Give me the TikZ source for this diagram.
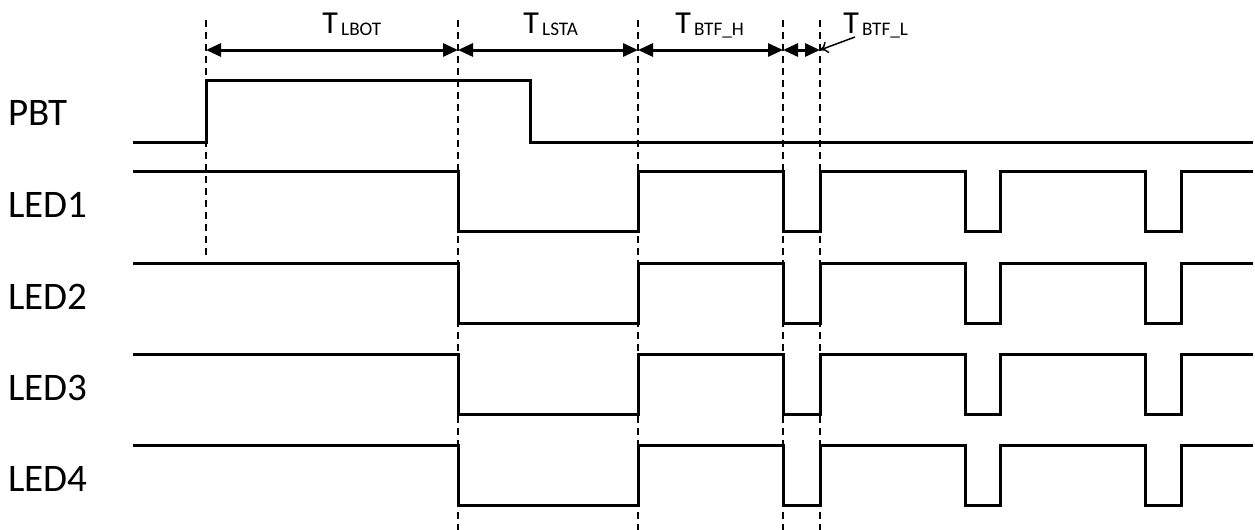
\documentclass[tikz,border=0pt]{standalone}
\usepackage{fontspec}
\setmainfont{Carlito}
\usetikzlibrary{arrows.meta}
\newcommand{\tname}[1]{T\raisebox{-1pt}{\fontsize{9.6}{10}\selectfont\,#1}}

\begin{document}
\begin{tikzpicture}[x=0.5pt,y=-0.5pt,
  sig/.style={line width=1.5pt},
  guide/.style={line width=0.8pt,dash pattern=on 3.5pt off 2.5pt},
  span/.style={line width=1.5pt,{Triangle[length=7.5pt,width=6.5pt]}-{Triangle[length=7.5pt,width=6.5pt]}},
  lab/.style={anchor=base west,inner sep=0pt,font=\fontsize{19.5}{20}\selectfont},
  tlab/.style={anchor=base west,inner sep=0pt,font=\fontsize{16}{16}\selectfont}]
\useasboundingbox (0,0) rectangle (1255,530);

\coordinate (a) at (206,50);
\coordinate (b) at (458,50);
\coordinate (c) at (638,50);
\coordinate (d) at (783,50);
\coordinate (e) at (820,50);
\coordinate (l) at (855,37);

\draw[guide] (206,20) -- (206,258);
\foreach \x in {458,638,783,820}
  \draw[guide] (\x,20) -- (\x,530);

\draw[span] (a) -- (b);
\draw[span] (b) -- (c);
\draw[span] (c) -- (d);
\draw[span] (d) -- (e);
\draw[line width=0.75pt,-{To[length=4pt,width=6pt]}] (l) -- (e);

\node[tlab](tlbot) at (322,33){\tname{LBOT}};
\node[tlab](tlsta) at (523,33){\tname{LSTA}};
\node[tlab](tbtfh) at (675,33){\tname{BTF\_H}};
\node[tlab](tbtfl) at (843,33){\tname{BTF\_L}};

\node[lab](pbt) at (8,126){PBT};
\draw[sig] (133,142) -- (206,142) -- (206,80) -- (530,80) -- (530,142) -- (1253,142);

\foreach \i/\y in {1/171,2/263,3/354,4/445}{
  \node[lab](led\i) at (8,\y+46){LED\i};
  \draw[sig] (133,\y) -| (458,\y+60) -| (638,\y) -| (783,\y+60) -| (820,\y)
    -| (965,\y+60) -| (1000,\y) -| (1145,\y+60) -| (1181,\y) -- (1253,\y);
}

\end{tikzpicture}
\end{document}
